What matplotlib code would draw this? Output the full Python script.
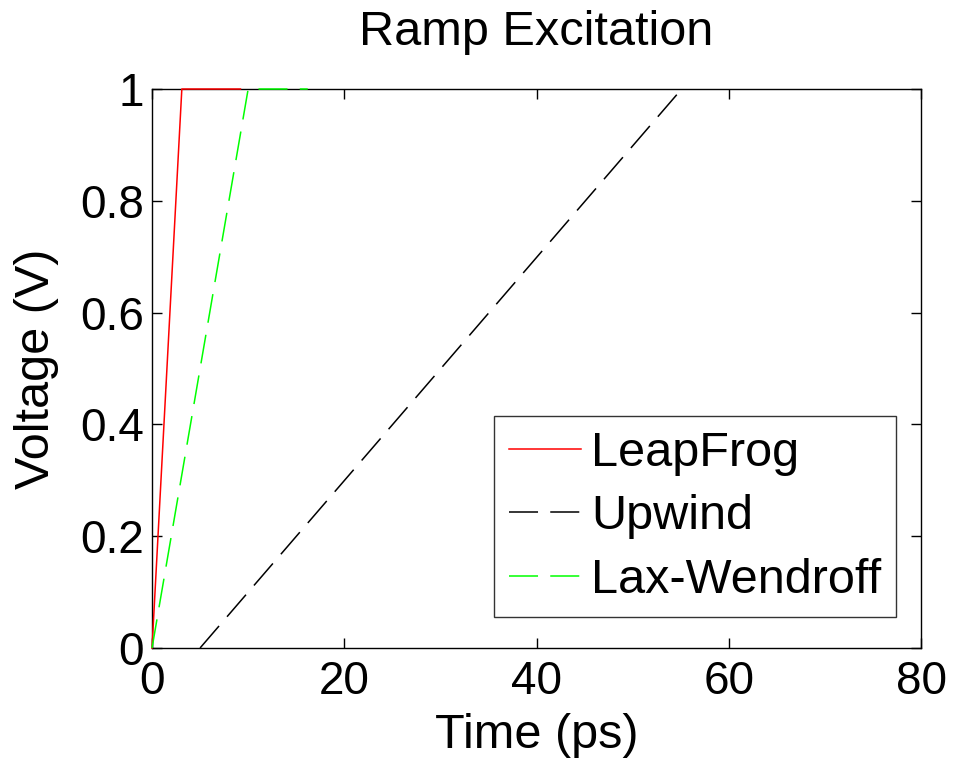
import numpy as np
import matplotlib
matplotlib.use("Agg")
from matplotlib import pyplot as plt

# ramp responses for the three schemes (time in ps, voltage in V)
leapfrog_t = [0.0, 3.1, 9.2]
leapfrog_v = [0.0, 1.0, 1.0]

upwind_t = [5.0, 55.1]
upwind_v = [0.0, 1.0]

laxw_t = [0.0, 10.0, 16.2]
laxw_v = [0.0, 1.0, 1.0]

xticks = [0, 20, 40, 60, 80]
yticks = [0, 0.2, 0.4, 0.6, 0.8, 1.0]
ytick_labels = ["0", "0.2", "0.4", "0.6", "0.8", "1"]

plt.rcParams['font.family'] = ['Liberation Sans', 'DejaVu Sans']

fig = plt.figure(figsize=(9.58, 7.68), dpi=100)
ax = fig.add_axes([0.1587, 0.1563, 0.8027, 0.7278])

ax.plot(leapfrog_t, leapfrog_v, '-', color=(1, 0, 0), lw=1.1, label='LeapFrog', clip_on=False, zorder=3)
ax.plot(upwind_t, upwind_v, '--', color='black', lw=1.1, dashes=(19, 8), label='Upwind', zorder=3)
ax.plot(laxw_t, laxw_v, '--', color=(0, 1, 0), lw=1.1, dashes=(19, 8), label='Lax-Wendroff', clip_on=False, zorder=3)

ax.set_xlim(0, 80)
ax.set_ylim(0, 1)
ax.set_xticks(xticks)
ax.set_yticks(yticks)
ax.set_yticklabels(ytick_labels)
ax.tick_params(direction='in', length=7, width=1, top=True, right=True,
               labelsize=33)
ax.tick_params(axis='x', pad=9)
ax.tick_params(axis='y', pad=6)
for s in ax.spines.values():
    s.set_linewidth(1.0)

ax.set_title('Ramp Excitation', fontsize=35, pad=32)
ax.set_xlabel('Time (ps)', fontsize=35, labelpad=6)
ax.set_ylabel('Voltage (V)', fontsize=35, labelpad=15)

leg = ax.legend(loc='lower right', bbox_to_anchor=(0.9675, 0.055), fontsize=35,
                frameon=True, fancybox=False, handlelength=1.5, handletextpad=0.2,
                borderpad=0.3, labelspacing=0.38, borderaxespad=0)
leg.get_frame().set_edgecolor('black')
leg.get_frame().set_linewidth(1.0)

fig.savefig('out.png', dpi=100)
